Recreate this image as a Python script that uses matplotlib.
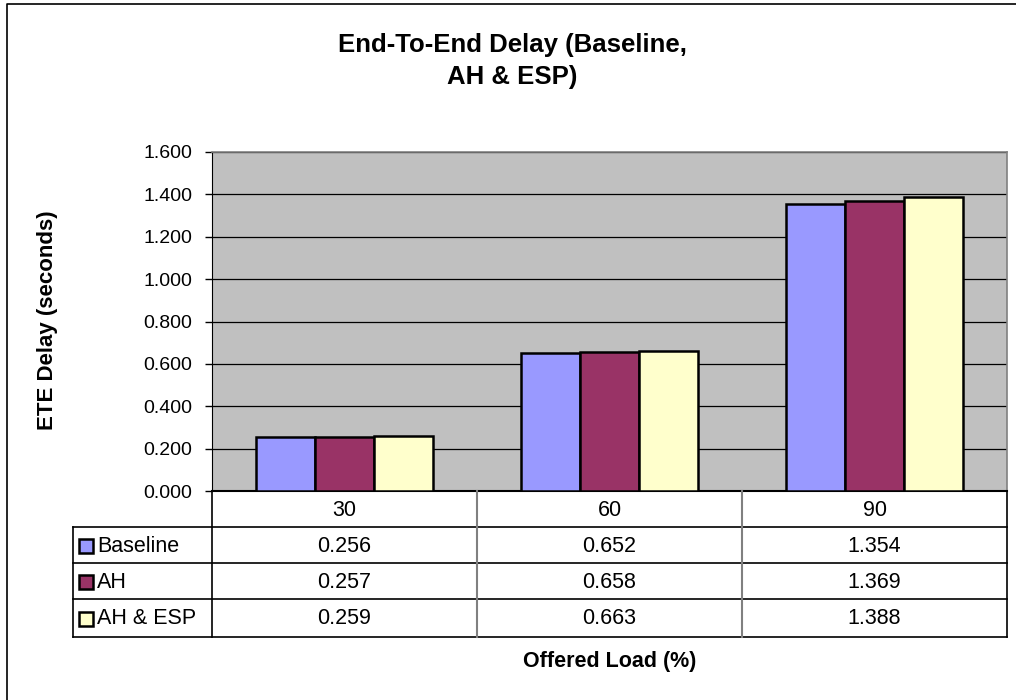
import matplotlib
matplotlib.use("Agg")
import matplotlib.pyplot as plt
import numpy as np
from matplotlib.lines import Line2D
from matplotlib.patches import Rectangle

loads = ['30', '60', '90']
series = ['Baseline', 'AH', 'AH & ESP']
baseline = [0.256, 0.652, 1.354]
ah = [0.257, 0.658, 1.369]
ah_esp = [0.259, 0.663, 1.388]
values = [baseline, ah, ah_esp]
colors = ['#9999FF', '#993366', '#FFFFCC']
yticks = [0.0, 0.2, 0.4, 0.6, 0.8, 1.0, 1.2, 1.4, 1.6]

W, H = 1016, 700
fig = plt.figure(figsize=(W / 100, H / 100), dpi=100)
plt.rcParams['font.family'] = ['Liberation Sans', 'DejaVu Sans']


def fx(px):
    return px / W


def fy(py):
    return 1 - py / H


# plot area
L, R, T, B = 212, 1007, 152, 491
ax = fig.add_axes([fx(L), fy(B), fx(R) - fx(L), fy(T) - fy(B)])
ax.set_facecolor('#C0C0C0')
x = np.arange(len(loads))
w = 0.222
for i, (vals, c) in enumerate(zip(values, colors)):
    ax.bar(x + (i - 1) * w, vals, w, color=c, edgecolor='black', linewidth=1.8, zorder=3)
ax.set_xlim(-0.5, 2.5)
ax.set_ylim(0, 1.6)
ax.set_yticks(yticks)
ax.set_yticklabels(['%.3f' % v for v in yticks], fontsize=14)
ax.set_xticks([])
ax.yaxis.grid(True, color='black', linewidth=0.9, zorder=0)
ax.tick_params(axis='y', length=5, width=1, pad=9)
for s in ['top', 'right']:
    ax.spines[s].set_color('#808080')
    ax.spines[s].set_linewidth(1.2)
ax.spines['left'].set_color('black')
ax.spines['bottom'].set_color('black')
ax.spines['bottom'].set_linewidth(1.5)
fig.text(fx(48), fy(320), 'ETE Delay (seconds)', rotation=90, ha='center', va='center',
         fontsize=16, fontweight='bold')

# data table below the plot
row_tops = [491, 527, 563, 599, 637]
col_edges = [L, L + (R - L) / 3, L + 2 * (R - L) / 3, R]
tleft = 73


def hline(x0, x1, y, color='black', lw=1.2):
    fig.add_artist(Line2D([fx(x0), fx(x1)], [fy(y), fy(y)], color=color, lw=lw))


def vline(xp, y0, y1, color='black', lw=1.2):
    fig.add_artist(Line2D([fx(xp), fx(xp)], [fy(y0), fy(y1)], color=color, lw=lw))


for y in row_tops[1:]:
    hline(tleft, R, y)
vline(tleft, row_tops[1], row_tops[-1])
vline(L, row_tops[0], row_tops[-1])
for xp in col_edges[1:-1]:
    vline(xp, row_tops[0], row_tops[-1], color='#808080', lw=1.5)
vline(R, row_tops[0], row_tops[-1])

for j, lab in enumerate(loads):
    cx = (col_edges[j] + col_edges[j + 1]) / 2
    fig.text(fx(cx), fy((row_tops[0] + row_tops[1]) / 2 + 1), lab, ha='center', va='center', fontsize=15.5)

for i, (name, vals, c) in enumerate(zip(series, values, colors)):
    cy = (row_tops[i + 1] + row_tops[i + 2]) / 2 + 1
    fig.add_artist(Rectangle((fx(79), fy(cy + 7)), fx(14), 14 / H, facecolor=c,
                             edgecolor='black', lw=1.8, transform=fig.transFigure))
    fig.text(fx(97), fy(cy), name, ha='left', va='center', fontsize=15.5)
    for j, v in enumerate(vals):
        cx = (col_edges[j] + col_edges[j + 1]) / 2
        fig.text(fx(cx), fy(cy), '%.3f' % v, ha='center', va='center', fontsize=15.5)

fig.text(fx((L + R) / 2), fy(662), 'Offered Load (%)', ha='center', va='center',
         fontsize=15.5, fontweight='bold')
fig.text(fx(512), fy(52), 'End-To-End Delay (Baseline,', ha='center', va='baseline',
         fontsize=18.5, fontweight='bold')
fig.text(fx(512), fy(84), 'AH & ESP)', ha='center', va='baseline',
         fontsize=18.5, fontweight='bold')

# outer chart border
fig.add_artist(Line2D([fx(7), fx(7), fx(W + 5)], [fy(H + 5), fy(4), fy(4)], color='black', lw=1.2))

fig.savefig('out.png', dpi=100)
